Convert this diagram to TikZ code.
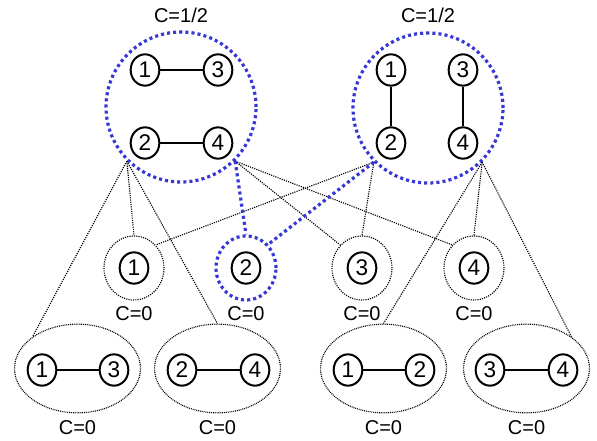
\documentclass[tikz,border=0pt]{standalone}
\usepackage{fontspec}
\setmainfont{Liberation Sans}
\usetikzlibrary{shapes.geometric}
\definecolor{dotblue}{RGB}{55,55,215}
\tikzset{
  vert/.style={ellipse,draw,line width=1.5pt,minimum width=21.5pt,minimum height=23.5pt,inner sep=0pt,font=\fontsize{17}{17}\selectfont},
  edgeline/.style={line width=1.5pt},
  bigc/.style={circle,draw=dotblue,line width=2.4pt,dash pattern=on 2.3pt off 2.3pt,minimum size=112.5pt,inner sep=0pt},
  midc/.style={ellipse,draw,line width=0.85pt,dash pattern=on 0.85pt off 0.85pt,minimum width=45pt,minimum height=48pt,inner sep=0pt},
  midblue/.style={ellipse,draw=dotblue,line width=2.4pt,dash pattern=on 2.3pt off 2.3pt,minimum width=45pt,minimum height=48pt,inner sep=0pt},
  bote/.style={ellipse,draw,line width=0.85pt,dash pattern=on 0.7pt off 0.7pt,minimum width=94.5pt,minimum height=66.5pt,inner sep=0pt},
  link/.style={line width=0.85pt,dash pattern=on 0.85pt off 0.85pt},
  bluelink/.style={draw=dotblue,line width=2.4pt,dash pattern=on 2.3pt off 2.3pt},
  lab/.style={font=\fontsize{15}{15}\selectfont,inner sep=0pt}
}
\begin{document}
\begin{tikzpicture}[x=0.75pt,y=-0.75pt]
\useasboundingbox (0,0) rectangle (597,441);
% big circles
\node[bigc] (L) at (181,107) {};
\node[bigc] (R) at (428,108) {};
\node[lab] (Llab) at (181,15) {C=1/2};
\node[lab] (Rlab) at (428,15) {C=1/2};
% left top graph
\node[vert] (L1) at (145,70) {1};
\node[vert] (L3) at (218,70) {3};
\node[vert] (L2) at (145,143) {2};
\node[vert] (L4) at (218,143) {4};
\draw[edgeline] (L1) -- (L3);
\draw[edgeline] (L2) -- (L4);
% right top graph
\node[vert] (R1) at (391,70) {1};
\node[vert] (R3) at (463,70) {3};
\node[vert] (R2) at (391,143) {2};
\node[vert] (R4) at (463,143) {4};
\draw[edgeline] (R1) -- (R2);
\draw[edgeline] (R3) -- (R4);
% middle row
\node[midc] (M1) at (134,268) {};
\node[midblue] (M2) at (246,268) {};
\node[midc] (M3) at (362,268) {};
\node[midc] (M4) at (474,268) {};
\node[vert] (m1) at (134,268) {1};
\node[vert] (m2) at (246,268) {2};
\node[vert] (m3) at (362,268) {3};
\node[vert] (m4) at (474,268) {4};
\node[lab] (M1lab) at (134,314) {C=0};
\node[lab] (M2lab) at (246,314) {C=0};
\node[lab] (M3lab) at (362,314) {C=0};
\node[lab] (M4lab) at (474,314) {C=0};
% bottom row
\node[bote] (B1) at (77.5,368.5) {};
\node[bote] (B2) at (217.5,368.5) {};
\node[bote] (B3) at (383.5,368.5) {};
\node[bote] (B4) at (526.5,368.5) {};
\node[vert] (b11) at (42,370) {1};
\node[vert] (b13) at (114,370) {3};
\node[vert] (b22) at (182,370) {2};
\node[vert] (b24) at (255,370) {4};
\node[vert] (b31) at (348,370) {1};
\node[vert] (b32) at (420,370) {2};
\node[vert] (b43) at (490,370) {3};
\node[vert] (b44) at (563,370) {4};
\draw[edgeline] (b11) -- (b13);
\draw[edgeline] (b22) -- (b24);
\draw[edgeline] (b31) -- (b32);
\draw[edgeline] (b43) -- (b44);
\node[lab] (B1lab) at (77.5,428) {C=0};
\node[lab] (B2lab) at (217.5,428) {C=0};
\node[lab] (B3lab) at (383.5,428) {C=0};
\node[lab] (B4lab) at (526.5,428) {C=0};
% links
\draw[link] (L.south west) -- (B1.north west);
\draw[link] (L.south west) -- (M1.north);
\draw[link] (L.south west) -- (B2.north);
\draw[link] (L.south east) -- (M3.north west);
\draw[link] (L.south east) -- (M4.north west);
\draw[link] (R.south west) -- (M1.north east);
\draw[link] (R.south west) -- (M3.north);
\draw[link] (R.south east) -- (M4.north);
\draw[link] (R.south east) -- (B3.north);
\draw[link] (R.south east) -- (B4.north east);
\draw[bluelink] (L.south east) -- (M2.north);
\draw[bluelink] (R.south west) -- (M2.north east);
\end{tikzpicture}
\end{document}
